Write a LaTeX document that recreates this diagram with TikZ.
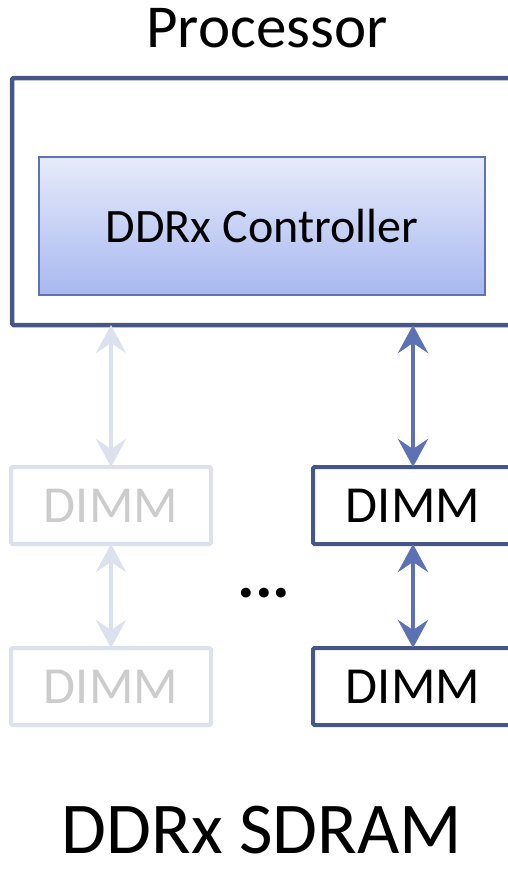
\documentclass[tikz,border=0pt]{standalone}
\usepackage{fontspec}
\setmainfont{Carlito}
\usetikzlibrary{arrows.meta}
\definecolor{navy}{RGB}{70,86,135}
\definecolor{arrblue}{RGB}{92,114,180}
\definecolor{lightline}{RGB}{221,225,237}
\definecolor{lighttext}{RGB}{204,204,204}
\definecolor{ctrltop}{RGB}{230,235,250}
\definecolor{ctrlbot}{RGB}{168,184,240}
\definecolor{ctrlline}{RGB}{94,115,182}
\tikzset{
  dimmbox/.style={draw=navy, line width=4pt, rounded corners=1.5pt, minimum width=200pt, minimum height=77pt, inner sep=0pt, outer sep=0pt, font=\fontsize{52}{60}\selectfont},
  dimmfaint/.style={dimmbox, draw=lightline, text=lighttext},
  biarr/.style={line width=4.5pt, {Stealth[length=28pt,width=30pt,inset=10pt]}-{Stealth[length=28pt,width=30pt,inset=10pt]}},
  dark/.style={biarr, draw=arrblue, fill=arrblue},
  faint/.style={biarr, draw=lightline, fill=lightline}
}
\begin{document}
\begin{tikzpicture}[x=1pt,y=-1pt]
\useasboundingbox (0,0) rectangle (508,871);
\clip (0,0) rectangle (508,871);
\node[font=\fontsize{61}{70}\selectfont, anchor=base] (ptitle) at (267,47) {Processor};
\node[draw=navy, line width=4.5pt, rounded corners=1.5pt, minimum width=520pt, minimum height=247pt, inner sep=0pt, outer sep=0pt] (proc) at (272,201.5) {};
\node[draw=ctrlline, line width=1.5pt, top color=ctrltop, bottom color=ctrlbot, minimum width=446pt, minimum height=138pt, inner sep=0pt, outer sep=0pt, font=\fontsize{48}{56}\selectfont] (ctrl) at (262,226) {DDRx Controller};
\node[dimmfaint] (l1) at (111,505.5) {DIMM};
\node[dimmfaint] (l2) at (111,686.5) {DIMM};
\node[dimmbox] (r1) at (413,505.5) {DIMM};
\node[dimmbox] (r2) at (413,686.5) {DIMM};
\draw[faint] (l1.north |- proc.south) -- (l1.north);
\draw[faint] (l1.south) -- (l2.north);
\draw[dark] (r1.north |- proc.south) -- (r1.north);
\draw[dark] (r1.south) -- (r2.north);
\node[font=\fontsize{66}{76}\selectfont\bfseries, anchor=base] (dots) at (264,597) {...};
\node[font=\fontsize{73}{84}\selectfont, anchor=base] (title) at (262,853) {DDRx SDRAM};
\end{tikzpicture}
\end{document}
